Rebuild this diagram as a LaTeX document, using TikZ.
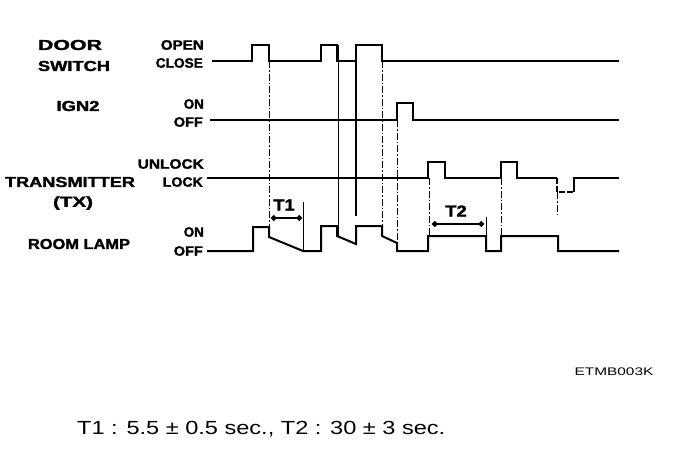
\documentclass[tikz,border=0pt]{standalone}
\usepackage{fontspec}
\setmainfont{Liberation Sans}
\newfontfamily\heavyfont[BoldFeatures={FakeBold=1.6}]{Liberation Sans}
\usetikzlibrary{arrows.meta}
\newcommand\biglbl[2]{\resizebox{#1pt}{\height}{\fontsize{14.5}{14.5}\heavyfont\bfseries #2}}
\newcommand\smllbl[2]{\resizebox{#1pt}{\height}{\fontsize{13.5}{13.5}\heavyfont\bfseries #2}}
\tikzset{
  wave/.style={line width=2pt, line join=miter},
  thinv/.style={line width=1pt},
  thickv/.style={line width=2pt},
  dashv/.style={line width=0.9pt, dash pattern=on 7pt off 2pt on 1.5pt off 2pt},
  dashw/.style={line width=1.8pt, dash pattern=on 6pt off 2pt},
  bl/.style={inner sep=0pt, anchor=center},
  sl/.style={inner sep=0pt, anchor=east},
  dim/.style={line width=1.8pt, {Circle[length=5.5pt]}-{Circle[length=5.5pt]}}
}
\begin{document}
\begin{tikzpicture}[x=1pt,y=-1pt]
\useasboundingbox (0,0) rectangle (688,448);
% left labels
\node[bl] (door) at (70,45) {\biglbl{64}{DOOR}};
\node[bl] (switch) at (74,66) {\biglbl{72}{SWITCH}};
\node[bl] (ign) at (78,106) {\biglbl{43}{IGN2}};
\node[bl] (tr) at (70,182) {\biglbl{130}{TRANSMITTER}};
\node[bl] (tx) at (73,203) {\biglbl{40}{(TX)}};
\node[bl] (room) at (79,244) {\biglbl{102}{ROOM LAMP}};
% state labels
\node[sl] (open) at (204,45) {\smllbl{43}{OPEN}};
\node[sl] (close) at (203,63) {\smllbl{47}{CLOSE}};
\node[sl] (on1) at (204,104) {\smllbl{20}{ON}};
\node[sl] (off1) at (203,122) {\smllbl{29}{OFF}};
\node[sl] (unlock) at (204,164) {\smllbl{66}{UNLOCK}};
\node[sl] (lock) at (203,182) {\smllbl{40}{LOCK}};
\node[sl] (on2) at (204,232) {\smllbl{20}{ON}};
\node[sl] (off2) at (203,251) {\smllbl{29}{OFF}};
% door switch
\draw[wave] (212,61) -- (252,61) -- (252,45) -- (269,45) -- (269,61) -- (321,61) -- (321,45) -- (337,45) -- (337,61) -- (356,61) -- (356,45) -- (382,45) -- (382,61) -- (619,61);
% IGN2
\draw[wave] (210,120) -- (397,120) -- (397,103) -- (413,103) -- (413,120) -- (619,120);
% transmitter
\draw[wave] (207,178) -- (428,178) -- (428,162) -- (445,162) -- (445,178) -- (501,178) -- (501,162) -- (517,162) -- (517,178) -- (557,178);
\draw[dashw] (557,178) -- (557,192) -- (574,192);
\draw[wave] (574,192) -- (574,178) -- (619,178);
% room lamp
\draw[wave] (207,251) -- (253,251) -- (253,227) -- (269,227) -- (269,237) -- (303,251) -- (321,251) -- (321,226) -- (337,226) -- (337,236) -- (356,244) -- (356,226) -- (382,226) -- (382,236) -- (397,243) -- (397,251) -- (428,251) -- (428,236) -- (486,236) -- (486,251) -- (501,251) -- (501,236) -- (558,236) -- (558,251) -- (619,251);
% vertical guide lines
\draw[dashv] (269,61) -- (269,227);
\draw[thinv] (303,202) -- (303,251);
\draw[thinv] (338,45) -- (338,236);
\draw[thickv] (356,45) -- (356,216);
\draw[dashv] (382,61) -- (382,226);
\draw[dashv] (397,120) -- (397,243);
\draw[dashv] (429,178) -- (429,236);
\draw[thinv] (486,217) -- (486,236);
\draw[dashv] (501,178) -- (501,236);
\draw[dashv] (557,192) -- (557,216);
% T1, T2
\coordinate (t1a) at (271,218);
\coordinate (t1b) at (302,218);
\draw[dim] (t1a) -- (t1b);
\node[bl] (t1) at (284,205) {\scalebox{1.15}[1]{\fontsize{16}{16}\heavyfont\bfseries T1}};
\coordinate (t2a) at (432,224);
\coordinate (t2b) at (484,224);
\draw[dim] (t2a) -- (t2b);
\node[bl] (t2) at (456,211) {\scalebox{1.15}[1]{\fontsize{16}{16}\heavyfont\bfseries T2}};
% code
\node[bl] (code) at (614,372) {\scalebox{1.4}[1]{\fontsize{11}{11}\selectfont ETMB003K}};
% bottom text
\node[inner sep=0pt, anchor=west] (note) at (77,429) {\scalebox{1.24}[1]{\fontsize{19}{19}\selectfont T1 : 5.5 ± 0.5 sec., T2 : 30 ± 3 sec.}};
\end{tikzpicture}
\end{document}
